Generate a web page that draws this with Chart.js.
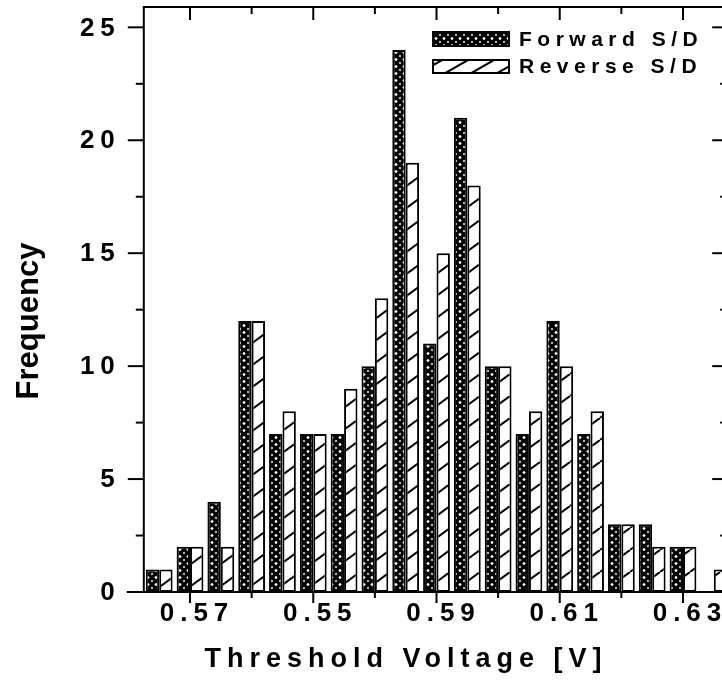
<!DOCTYPE html>
<html>
<head>
<meta charset="utf-8">
<script src="https://cdn.jsdelivr.net/npm/chart.js@4/dist/chart.umd.min.js"></script>
<style>
  html, body { margin: 0; padding: 0; background: #fff; overflow: hidden; }
  #wrap { width: 740px; height: 682px; }
</style>
</head>
<body>
<div id="wrap"><canvas id="c" width="740" height="682"></canvas></div>
<script>
// ---- data ----
const bins = ['b1','b2','b3','b4','b5','b6','b7','b8','b9','b10','b11','b12','b13','b14','b15','b16','b17','b18','b19'];
const forwardSD = [1, 2, 4, 12, 7, 7, 7, 10, 24, 11, 21, 10, 7, 12, 7, 3, 3, 2, 0];
const reverseSD = [1, 2, 2, 12, 8, 7, 9, 13, 19, 15, 18, 10, 8, 10, 8, 3, 2, 2, 1];
const xTickLabels = ['0.57', '0.55', '0.59', '0.61', '0.63'];
const xMajorBins = [1, 5, 9, 13, 17];
const xMinorBins = [3, 7, 11, 15];
const yMajorTicks = [0, 5, 10, 15, 20, 25];
const yMinorTicks = [2.5, 7.5, 12.5, 17.5, 22.5];
const seriesNames = ['Forward S/D', 'Reverse S/D'];
const xTitle = 'Threshold Voltage [V]';
const yTitle = 'Frequency';

// ---- patterns ----
function crossPattern(ctx) {
  const c = document.createElement('canvas');
  c.width = 8; c.height = 7;
  const g = c.getContext('2d');
  g.fillStyle = '#000'; g.fillRect(0, 0, 8, 7);
  g.fillStyle = '#fff';
  const dia = (x, y, r) => { g.beginPath(); g.moveTo(x, y - r); g.lineTo(x + r, y); g.lineTo(x, y + r); g.lineTo(x - r, y); g.closePath(); g.fill(); };
  dia(4, 3.5, 1.7);
  [[0,0],[8,0],[0,7],[8,7]].forEach(p => dia(p[0], p[1], 1.2));
  return ctx.createPattern(c, 'repeat');
}
function hatchPattern(ctx, W, H) {
  const c = document.createElement('canvas');
  c.width = W; c.height = H;
  const g = c.getContext('2d');
  g.fillStyle = '#fff'; g.fillRect(0, 0, W, H);
  g.strokeStyle = '#000'; g.lineWidth = 2;
  [-W, 0, W].forEach(dx => { g.beginPath(); g.moveTo(dx, H); g.lineTo(dx + W, 0); g.stroke(); });
  return ctx.createPattern(c, 'repeat');
}

const cvs = document.getElementById('c');
const ctx0 = cvs.getContext('2d');
const patF = crossPattern(ctx0);
const patR = hatchPattern(ctx0, 30, 22);
const patRLegend = hatchPattern(ctx0, 26, 15);

const FONT = '"Liberation Sans", Arial, sans-serif';

const decor = {
  id: 'decor',
  beforeDraw(chart) {
    const c = chart.ctx;
    c.save(); c.fillStyle = '#fff'; c.fillRect(0, 0, chart.width, chart.height); c.restore();
  },
  afterDraw(chart) {
    const c = chart.ctx;
    const a = chart.chartArea;
    const xs = chart.scales.x, ys = chart.scales.y;
    c.save();
    c.strokeStyle = '#000';
    c.lineWidth = 2;
    c.lineCap = 'butt';
    // frame
    c.beginPath();
    c.moveTo(a.left, a.top); c.lineTo(a.right, a.top);
    c.moveTo(a.left - 17, a.bottom); c.lineTo(a.right, a.bottom);
    c.moveTo(a.left, a.top - 1); c.lineTo(a.left, a.bottom);
    c.moveTo(a.right, a.top - 1); c.lineTo(a.right, a.bottom);
    c.stroke();
    // ticks
    const vline = (x, y1, y2) => { c.beginPath(); c.moveTo(x, y1); c.lineTo(x, y2); c.stroke(); };
    const hline = (y, x1, x2) => { c.beginPath(); c.moveTo(x1, y); c.lineTo(x2, y); c.stroke(); };
    xMajorBins.forEach(i => { const x = xs.getPixelForValue(i); vline(x, a.bottom, a.bottom + 11); vline(x, a.top, a.top + 13); });
    xMinorBins.forEach(i => { const x = xs.getPixelForValue(i); vline(x, a.bottom, a.bottom + 6); vline(x, a.top, a.top + 7); });
    yMajorTicks.forEach(v => { const y = ys.getPixelForValue(v); hline(y, a.left - 16, a.left); hline(y, a.right - 17, a.right); });
    yMinorTicks.forEach(v => { const y = ys.getPixelForValue(v); hline(y, a.left - 8, a.left); hline(y, a.right - 9, a.right); });

    // tick labels
    c.fillStyle = '#000';
    c.font = 'bold 26px ' + FONT;
    c.letterSpacing = '6px';
    c.textBaseline = 'middle';
    c.textAlign = 'right';
    yMajorTicks.forEach(v => { c.fillText(String(v), a.left - 23, ys.getPixelForValue(v) + 1); });
    c.textAlign = 'center';
    xMajorBins.forEach((i, k) => { c.fillText(xTickLabels[k], xs.getPixelForValue(i) + 7, a.bottom + 22); });
    // x title
    c.font = 'bold 27px ' + FONT;
    c.fillText(xTitle, 406, 660);
    // y title
    c.letterSpacing = '0px';
    c.save();
    c.font = 'bold 31px ' + FONT;
    c.translate(38, 321);
    c.rotate(-Math.PI / 2);
    c.textAlign = 'center';
    c.textBaseline = 'alphabetic';
    c.fillText(yTitle, 0, 0);
    c.restore();

    // legend
    const lx = 433, lw = 76;
    const items = [{ y: 32, h: 14, pat: patF }, { y: 60, h: 13, pat: patRLegend }];
    c.font = 'bold 21px ' + FONT;
    c.letterSpacing = '5.5px';
    c.textAlign = 'left';
    c.textBaseline = 'middle';
    items.forEach((it, k) => {
      c.fillStyle = it.pat;
      c.fillRect(lx, it.y, lw, it.h);
      c.lineWidth = 2;
      c.strokeStyle = '#000';
      c.strokeRect(lx, it.y, lw, it.h);
      c.fillStyle = '#000';
      c.fillText(seriesNames[k], lx + 86, it.y + it.h / 2 + 1);
    });
    c.restore();
  }
};

new Chart(cvs, {
  type: 'bar',
  data: {
    labels: bins,
    datasets: [
      { label: seriesNames[0], data: forwardSD, backgroundColor: patF, borderColor: '#000', borderWidth: 2, borderSkipped: false },
      { label: seriesNames[1], data: reverseSD, backgroundColor: patR, borderColor: '#000', borderWidth: 2, borderSkipped: false }
    ]
  },
  options: {
    responsive: false,
    animation: false,
    devicePixelRatio: 1,
    layout: { padding: { left: 143.8, right: 10.8, top: 7, bottom: 90 } },
    datasets: { bar: { categoryPercentage: 0.87, barPercentage: 1.0 } },
    plugins: { legend: { display: false }, tooltip: { enabled: false }, title: { display: false } },
    scales: {
      x: { type: 'category', display: false, offset: true },
      y: { type: 'linear', display: false, min: 0, max: 25.9 }
    }
  },
  plugins: [decor]
});
</script>
</body>
</html>
